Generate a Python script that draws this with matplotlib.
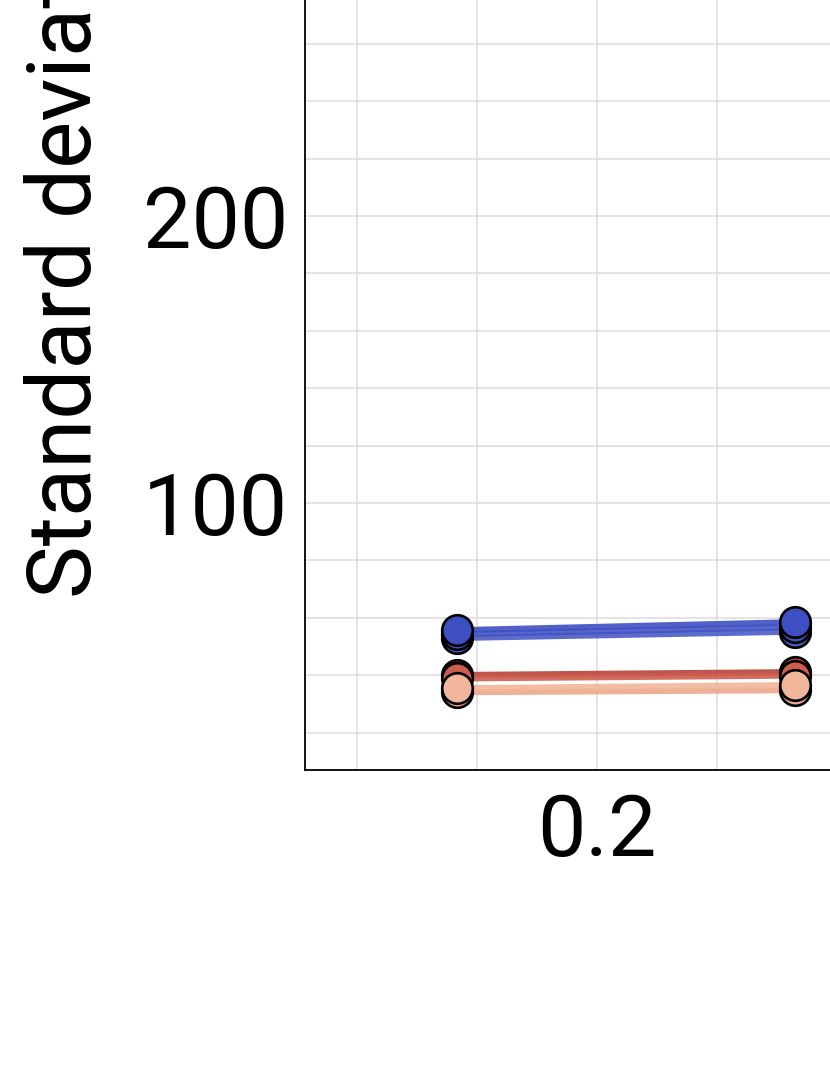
import numpy as np
import matplotlib.pyplot as plt

plt.rcParams['font.family'] = ['Roboto', 'DejaVu Sans']

# x positions of the two visible points
x = [0.083, 0.365]

# series values (bottom-drawn first)
blue_c = [53.0, 55.2]
blue_b = [54.3, 56.8]
blue_a = [55.7, 58.5]
red_a = [40.1, 41.1]
red_b = [38.9, 39.9]
salmon_b = [34.1, 34.8]
salmon_a = [35.5, 36.6]

series = [
    (red_a, '#b8443a'),
    (red_b, '#cd5e4e'),
    (salmon_b, '#eba98d'),
    (salmon_a, '#f2b69a'),
    (blue_c, '#4a5cc8'),
    (blue_b, '#4354c4'),
    (blue_a, '#3d4fc2'),
]

yticks = [100, 200, 300]
xticks = [0.2]

fig = plt.figure(figsize=(8.3, 10.75), dpi=100)
W, H = 830, 1075
left_px, bottom_px = 305, 770
px_x = 1200.0      # pixels per x unit
px_y = 2.87        # pixels per y unit
xmin, xmax = -0.0433, 0.8
ymin, ymax = 7, 300
ax = fig.add_axes([left_px / W, (H - bottom_px) / H,
                   (xmax - xmin) * px_x / W, (ymax - ymin) * px_y / H])

for vals, col in series:
    ax.plot(x, vals, color=col, lw=4.4, alpha=0.9, solid_capstyle='butt', zorder=3)
for vals, col in series:
    ax.plot(x, vals, 'o', ms=22, mfc=col, mec='black', mew=1.9, zorder=4)

ax.set_xlim(xmin, xmax)
ax.set_ylim(ymin, ymax)
ax.set_xticks(xticks)
ax.set_xticklabels(['0.2'])
ax.set_yticks(yticks)
ax.set_xticks(np.arange(0, 0.8, 0.1), minor=True)
ax.set_yticks(np.arange(20, 300, 20), minor=True)
ax.grid(True, which='both', color='#dcdcdc', lw=1.1, zorder=0)
ax.tick_params(which='both', length=0, labelsize=62)
ax.tick_params(axis='y', pad=12)
ax.tick_params(axis='x', pad=16)
for s in ['top', 'right']:
    ax.spines[s].set_visible(False)
ax.spines['left'].set_linewidth(1.3)
ax.spines['bottom'].set_linewidth(1.3)

fig.text(67 / W, 1 - 598 / H, 'Standard deviation', fontsize=64, rotation=90,
         ha='center', va='bottom')

fig.savefig('out.png', dpi=100)
